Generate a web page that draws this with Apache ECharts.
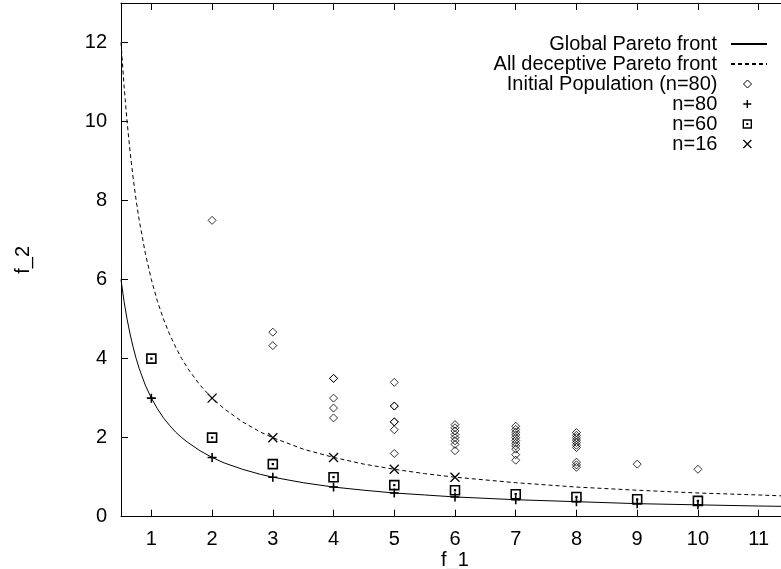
<!DOCTYPE html>
<html>
<head>
<meta charset="utf-8">
<script src="https://cdn.jsdelivr.net/npm/echarts@6/dist/echarts.min.js"></script>
<style>html,body{margin:0;padding:0;background:#fff}#c{width:781px;height:569px}</style>
</head>
<body>
<div id="c"></div>
<script>
// ---- data ----
const xTicks = [1,2,3,4,5,6,7,8,9,10,11];
const yTicks = [0,2,4,6,8,10,12];

const frontX = [0.5,0.55,0.6,0.65,0.7,0.75,0.8,0.9,1,1.1,1.2,1.3,1.4,1.5,1.6,1.8,2,2.2,2.5,2.8,3,3.5,4,4.5,5,5.5,6,7,8,9,10,11,11.5];
const globalFrontY = [6,5.45,5,4.62,4.29,4,3.75,3.33,3,2.73,2.5,2.31,2.14,2,1.88,1.67,1.5,1.36,1.2,1.07,1,0.86,0.75,0.67,0.6,0.55,0.5,0.43,0.38,0.33,0.3,0.27,0.26];
const deceptiveFrontY = [12,10.91,10,9.23,8.57,8,7.5,6.67,6,5.45,5,4.62,4.29,4,3.75,3.33,3,2.73,2.4,2.14,2,1.71,1.5,1.33,1.2,1.09,1,0.86,0.75,0.67,0.6,0.55,0.52];

const initX = [2, 3,3, 4,4,4,4,4, 5,5,5,5,5,5,5,
  6,6,6,6,6,6,6,6,
  7,7,7,7,7,7,7,7,7,7,7,
  8,8,8,8,8,8,8,8,8,8,
  9,10];
const initY = [7.5, 4.67,4.33, 3.5,3.5,3.0,2.75,2.5, 3.4,2.8,2.8,2.4,2.4,2.2,1.6,
  2.33,2.25,2.17,2.08,2.0,1.92,1.83,1.67,
  2.29,2.21,2.14,2.07,2.0,1.93,1.86,1.79,1.71,1.57,1.43,
  2.13,2.06,2.0,1.94,1.88,1.81,1.75,1.38,1.31,1.25,
  1.33,1.2];

const n80X = [1,2,3,4,5,6,7,8,9,10];
const n80Y = [3,1.5,1,0.75,0.6,0.5,0.43,0.38,0.33,0.3];
const n60X = [1,2,3,4,5,6,7,8,9,10];
const n60Y = [4,2,1.33,1,0.8,0.67,0.57,0.5,0.44,0.4];
const n16X = [2,3,4,5,6];
const n16Y = [3,2,1.5,1.2,1.0];

const seriesNames = ['Global Pareto front','All deceptive Pareto front','Initial Population (n=80)','n=80','n=60','n=16'];

// ---- chart ----
const zip = (xs, ys) => xs.map((x, i) => [x, ys[i]]);
const FONT = "'Liberation Sans', Arial, Helvetica, sans-serif";
const FS = 20;
const chart = echarts.init(document.getElementById('c'), null, {renderer: 'canvas'});

const hollow = (bw) => ({color: 'rgba(0,0,0,0)', borderColor: '#000', borderWidth: bw, opacity: 1});
const legendWidths = [0, 0, 1, 1.4, 1.4, 1.2];

const option = {
  animation: false,
  backgroundColor: '#fff',
  textStyle: {fontFamily: FONT, color: '#000'},
  grid: {left: 121, top: 3, width: 668, height: 513.7, containLabel: false, outerBoundsMode: 'none'},
  xAxis: [{
    type: 'value', min: 0.5, max: 11.5, position: 'bottom',
    name: 'f_1', nameLocation: 'middle', nameGap: 34, nameMoveOverlap: false,
    nameTextStyle: {fontSize: FS, color: '#000', fontFamily: FONT},
    axisLine: {show: true, lineStyle: {color: '#000', width: 1}},
    axisTick: {show: true, inside: true, length: 7, customValues: xTicks, lineStyle: {color: '#000'}},
    axisLabel: {show: true, customValues: xTicks, margin: 13, fontSize: FS, color: '#000', fontFamily: FONT},
    splitLine: {show: false}
  }, {
    type: 'value', min: 0.5, max: 11.5, position: 'top',
    axisLine: {show: true, lineStyle: {color: '#000', width: 1}},
    axisTick: {show: true, inside: true, length: 7, customValues: xTicks, lineStyle: {color: '#000'}},
    axisLabel: {show: false},
    splitLine: {show: false}
  }],
  yAxis: [{
    type: 'value', min: 0, max: 13, position: 'left',
    name: 'f_2', nameLocation: 'middle', nameGap: 88, nameRotate: 90, nameMoveOverlap: false,
    nameTextStyle: {fontSize: FS, color: '#000', fontFamily: FONT},
    axisLine: {show: true, lineStyle: {color: '#000', width: 1}},
    axisTick: {show: true, inside: true, length: 7, customValues: yTicks, lineStyle: {color: '#000'}},
    axisLabel: {show: true, customValues: yTicks, margin: 14, fontSize: FS, color: '#000', fontFamily: FONT},
    splitLine: {show: false}
  }],
  legend: seriesNames.map((name, i) => {
    const isLine = i < 2;
    return {
      data: [name],
      orient: 'horizontal',
      align: 'right',
      right: isLine ? 13 : 29,
      top: 34 + i * 20,
      itemWidth: isLine ? 36 : 8,
      itemHeight: 8,
      itemGap: 0,
      padding: 0,
      selectedMode: false,
      itemStyle: isLine
        ? {color: 'rgba(0,0,0,0)', borderWidth: 0, opacity: 0}
        : {color: 'rgba(0,0,0,0)', borderColor: '#000', borderWidth: legendWidths[i], opacity: 1},
      textStyle: {fontSize: FS, color: '#000', fontFamily: FONT, padding: [0, isLine ? 9 : 21, 0, 0]}
    };
  }),
  series: [
    {
      name: seriesNames[0], type: 'line', data: zip(frontX, globalFrontY),
      symbol: 'none', smooth: false,
      lineStyle: {color: '#000', width: 1, type: 'solid'},
      itemStyle: {color: '#000'}, z: 2
    },
    {
      name: seriesNames[1], type: 'line', data: zip(frontX, deceptiveFrontY),
      symbol: 'none', smooth: false,
      lineStyle: {color: '#000', width: 1, type: [4, 3]},
      itemStyle: {color: '#000'}, z: 2
    },
    {
      name: seriesNames[2], type: 'scatter', data: zip(initX, initY),
      symbol: 'diamond', symbolSize: 8,
      itemStyle: {color: 'rgba(0,0,0,0)', borderColor: '#000', borderWidth: 1}, z: 3
    },
    {
      name: seriesNames[3], type: 'scatter', data: zip(n80X, n80Y),
      symbol: 'path://M5,0L5,10M0,5L10,5', symbolSize: 9,
      itemStyle: hollow(1.6), z: 4
    },
    {
      name: seriesNames[4], type: 'scatter', data: zip(n60X, n60Y),
      symbol: 'path://M0,0L10,0L10,10L0,10Z M4.6,4.6L5.4,4.6L5.4,5.4L4.6,5.4Z', symbolSize: 9,
      itemStyle: hollow(1.6), z: 4
    },
    {
      name: seriesNames[5], type: 'scatter', data: zip(n16X, n16Y),
      symbol: 'path://M0,0L10,10M10,0L0,10', symbolSize: 9,
      itemStyle: hollow(1.3), z: 4
    }
  ]
};
chart.setOption(option);
</script>
</body>
</html>
